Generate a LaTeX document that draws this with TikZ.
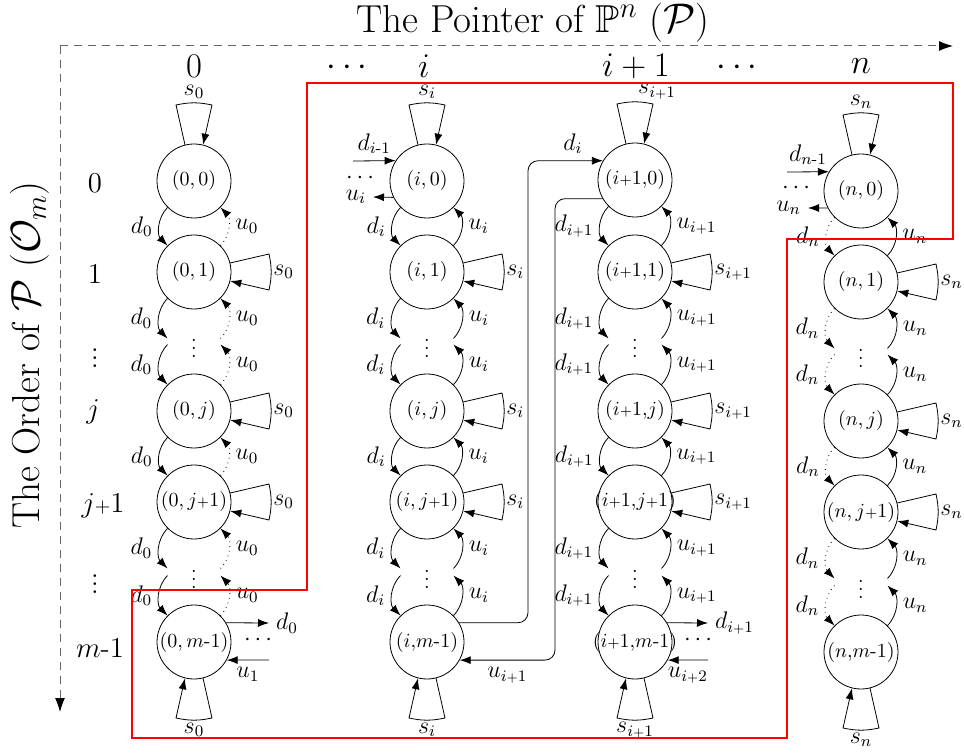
\documentclass[tikz,border=0pt]{standalone}
\usepackage{amsmath,amssymb}
\usetikzlibrary{arrows.meta,calc}
\newcommand{\spl}{{\scriptstyle+}}
\newcommand{\sspl}{{\scriptscriptstyle+}}
\newcommand{\hy}{\text{-}}
\newcommand{\nlab}[1]{\makebox[0pt]{$#1$}}
\newcommand{\rloop}[2]{%
  \draw[arr] (#1.14) -- ($(#1)+(75,-18)$) to[bend left=12] ($(#1)+(75,18)$) -- (#1.-14);
  \node[elab,anchor=west,inner sep=1pt] at ($(#1)+(77,0)$) {$#2$};}
\newcommand{\tloop}[3][0]{%
  \draw[arr] (#2.104) -- ($(#2)+(-18,-76)$) to[bend left=12] ($(#2)+(18,-76)$) -- (#2.76);
  \node[elab] at ($(#2)+(#1,-89)$) {$#3$};}
\newcommand{\bloop}[2]{%
  \draw[arr] (#1.-76) -- ($(#1)+(18,76)$) to[bend left=12] ($(#1)+(-18,76)$) -- (#1.-104);
  \node[elab] at ($(#1)+(0,88)$) {$#2$};}
\begin{document}
\begin{tikzpicture}[x=0.5pt,y=-0.5pt,
  st/.style={circle,draw,minimum size=37pt,inner sep=0pt},
  arr/.style={-{Latex[length=5.5pt,width=4pt]}},
  dd/.style={out=-135,in=135},
  uu/.style={out=45,in=-45},
  elab/.style={font=\fontsize{11.5}{13}\selectfont},
  dlab/.style={left,elab},
  ulab/.style={right,elab},
  axis/.style={draw=black!60,dash pattern=on 4pt off 3pt,line width=0.5pt,-{Latex[length=7pt,width=5pt,color=black]}},
  redbox/.style={draw=red,line width=1pt},
  big/.style={font=\fontsize{16.5}{19}\selectfont},
  rowl/.style={font=\fontsize{14}{17}\selectfont,inner sep=1pt},
  ttl/.style={font=\fontsize{19.5}{22}\selectfont,inner sep=0pt},
]
\useasboundingbox (0,0) rectangle (964,753);

% titles and axes
\node[ttl] (title) at (533,23) {The Pointer of $\mathbb{P}^n$ ($\mathcal{P}$)};
\node[ttl,rotate=90] (ytitle) at (30,355) {The Order of $\mathcal{P}$ ($\mathcal{O}_m$)};
\coordinate (ax0) at (60,46);
\coordinate (axH) at (953,46);
\coordinate (axV) at (60,712);
\draw[axis] (ax0) -- (axH);
\draw[axis] (ax0) -- (axV);

% column labels
\node[big] (cl0) at (194,66) {$0$};
\node[big] (cld1) at (350,68) {$\cdots$};
\node[big] (cli) at (424,66) {$i$};
\node[big] (clip) at (636,66) {$i+1$};
\node[big] (cld2) at (740,68) {$\cdots$};
\node[big] (cln) at (861,66) {$n$};

% row labels
\node[rowl] (rl0) at (95,183) {$0$};
\node[rowl] (rl1) at (95,274) {$1$};
\node[rowl] (rlv1) at (95,352) {$\vdots$};
\node[rowl] (rlj) at (93,412) {$j$};
\node[rowl] (rlj1) at (103,506) {$j\spl1$};
\node[rowl] (rlv2) at (95,578) {$\vdots$};
\node[rowl] (rlm) at (100,648) {$m\hy1$};

% column 0
\node[st] (a0) at (194,181) {\nlab{(0,0)}};
\node[st] (a1) at (194,272) {\nlab{(0,1)}};
\node (aV1) at (194,342) {$\vdots$};
\node[st] (aJ) at (194,411) {\nlab{(0,j)}};
\node[st] (aJ1) at (194,502) {\nlab{(0,j\spl1)}};
\node (aV2) at (194,573) {$\vdots$};
\node[st] (aM) at (194,642) {\nlab{(0,m\hy1)}};

% column i
\node[st] (b0) at (427,181) {\nlab{(i,0)}};
\node[st] (b1) at (427,272) {\nlab{(i,1)}};
\node (bV1) at (427,342) {$\vdots$};
\node[st] (bJ) at (427,411) {\nlab{(i,j)}};
\node[st] (bJ1) at (427,502) {\nlab{(i,j\spl1)}};
\node (bV2) at (427,573) {$\vdots$};
\node[st] (bM) at (427,642) {\nlab{(i{,}m\hy1)}};

% column i+1
\node[st] (c0) at (635,180) {\nlab{(i\spl1{,}0)}};
\node[st] (c1) at (635,272) {\nlab{(i\spl1{,}1)}};
\node (cV1) at (635,342) {$\vdots$};
\node[st] (cJ) at (635,411) {\nlab{(i\spl1{,}j)}};
\node[st] (cJ1) at (635,502) {\nlab{(i\spl1{,}j\spl1)}};
\node (cV2) at (635,573) {$\vdots$};
\node[st] (cM) at (635,642) {\nlab{(i\spl1{,}m\hy1)}};

% column n
\node[st] (d0) at (861,191) {\nlab{(n,0)}};
\node[st] (d1) at (861,282) {\nlab{(n,1)}};
\node (dV1) at (861,352) {$\vdots$};
\node[st] (dJ) at (861,421) {\nlab{(n,j)}};
\node[st] (dJ1) at (861,512) {\nlab{(n,j\spl1)}};
\node (dV2) at (861,583) {$\vdots$};
\node[st] (dM) at (861,652) {\nlab{(n{,}m\hy1)}};

% gap coordinates
\foreach \col in {a,b,c,d}{
  \coordinate (\col g1lu) at ($(\col1.-135)+(0,40)$);
  \coordinate (\col g1ll) at ($(\col J.135)+(0,-40)$);
  \coordinate (\col g1ru) at ($(\col1.-45)+(0,40)$);
  \coordinate (\col g1rl) at ($(\col J.45)+(0,-40)$);
  \coordinate (\col g2lu) at ($(\col J1.-135)+(0,40)$);
  \coordinate (\col g2ll) at ($(\col M.135)+(0,-40)$);
  \coordinate (\col g2ru) at ($(\col J1.-45)+(0,40)$);
  \coordinate (\col g2rl) at ($(\col M.45)+(0,-40)$);
}

% down / up transitions
\foreach \col/\dl/\ul/\ds/\us in {a/d_0/u_0/solid/dotted, b/d_i/u_i/solid/solid, c/d_{i\sspl1}/u_{i\sspl1}/solid/solid, d/d_n/u_n/dotted/solid}{
  \draw[arr,\ds] (\col0) to[dd] node[dlab]{$\dl$} (\col1);
  \draw[arr,\ds] (\col1) to[dd] node[dlab]{$\dl$} (\col g1lu);
  \draw[arr,\ds] (\col g1ll) to[dd] node[dlab]{$\dl$} (\col J);
  \draw[arr,\ds] (\col J) to[dd] node[dlab]{$\dl$} (\col J1);
  \draw[arr,\ds] (\col J1) to[dd] node[dlab]{$\dl$} (\col g2lu);
  \draw[arr,\ds] (\col g2ll) to[dd] node[dlab]{$\dl$} (\col M);
  \draw[arr,\us] (\col1) to[uu] node[ulab]{$\ul$} (\col0);
  \draw[arr,\us] (\col g1ru) to[uu] node[ulab]{$\ul$} (\col1);
  \draw[arr,\us] (\col J) to[uu] node[ulab]{$\ul$} (\col g1rl);
  \draw[arr,\us] (\col J1) to[uu] node[ulab]{$\ul$} (\col J);
  \draw[arr,\us] (\col g2ru) to[uu] node[ulab]{$\ul$} (\col J1);
  \draw[arr,\us] (\col M) to[uu] node[ulab]{$\ul$} (\col g2rl);
}

% self loops
\tloop{a0}{s_0} \rloop{a1}{s_0} \rloop{aJ}{s_0} \rloop{aJ1}{s_0} \bloop{aM}{s_0}
\tloop{b0}{s_i} \rloop{b1}{s_i} \rloop{bJ}{s_i} \rloop{bJ1}{s_i} \bloop{bM}{s_i}
\tloop[22]{c0}{s_{i\sspl1}} \rloop{c1}{s_{i\sspl1}} \rloop{cJ}{s_{i\sspl1}} \rloop{cJ1}{s_{i\sspl1}} \bloop{cM}{s_{i\sspl1}}
\tloop{d0}{s_n} \rloop{d1}{s_n} \rloop{dJ}{s_n} \rloop{dJ1}{s_n} \bloop{dM}{s_n}

% side arrows column 0 bottom
\coordinate (aOut) at ($(aM)+(75,-19)$);
\coordinate (aIn) at ($(aM)+(75,18)$);
\draw[arr] (aM.31) -- (aOut) node[right,elab]{$d_0$};
\node[elab] (aDots) at ($(aM)+(66,-2)$) {$\cdots$};
\draw[arr] (aIn) -- node[below,elab]{$u_1$} (aM.-29);

% side arrows column i+1 bottom
\coordinate (cOut) at ($(cM)+(73,-19)$);
\coordinate (cIn) at ($(cM)+(73,18)$);
\draw[arr] (cM.31) -- (cOut) node[right,elab]{$d_{i\sspl1}$};
\node[elab] (cDots) at ($(cM)+(65,-2)$) {$\cdots$};
\draw[arr] (cIn) -- node[below,elab]{$u_{i\sspl2}$} (cM.-29);

% side arrows column i top
\coordinate (bIn) at ($(b0)+(-74,-20)$);
\coordinate (bOut) at ($(b0)+(-54,16)$);
\draw[arr] (bIn) -- node[above,elab]{$d_{i\hy1}$} (b0.147);
\node[elab] (bDots) at ($(b0)+(-65,-3)$) {$\cdots$};
\draw[arr] (b0.-154) -- (bOut) node[left,elab]{$u_i$};

% side arrows column n top
\coordinate (dIn) at ($(d0)+(-74,-19)$);
\coordinate (dOut) at ($(d0)+(-53,17)$);
\draw[arr] (dIn) -- node[above,elab]{$d_{n\hy1}$} (d0.149);
\node[elab] (dDots) at ($(d0)+(-63,-3)$) {$\cdots$};
\draw[arr] (d0.-153) -- (dOut) node[left,elab]{$u_n$};

% long connectors between columns i and i+1
\coordinate (cA) at (528,400);
\coordinate (cB) at (555,400);
\draw[arr,rounded corners=5pt] (bM.31) -| (cA) |- node[pos=0.8,above,elab]{$d_i$} (c0.149);
\draw[arr,rounded corners=5pt] (c0.-150) -| (cB) |- node[pos=0.75,below,elab]{$u_{i\sspl1}$} (bM.-29);

% red region
\draw[redbox] (307,83) -- (953,83) -- (953,239) -- (787,239) -- (787,738) -- (132,738) -- (132,590) -- (307,590) -- cycle;
\end{tikzpicture}
\end{document}
